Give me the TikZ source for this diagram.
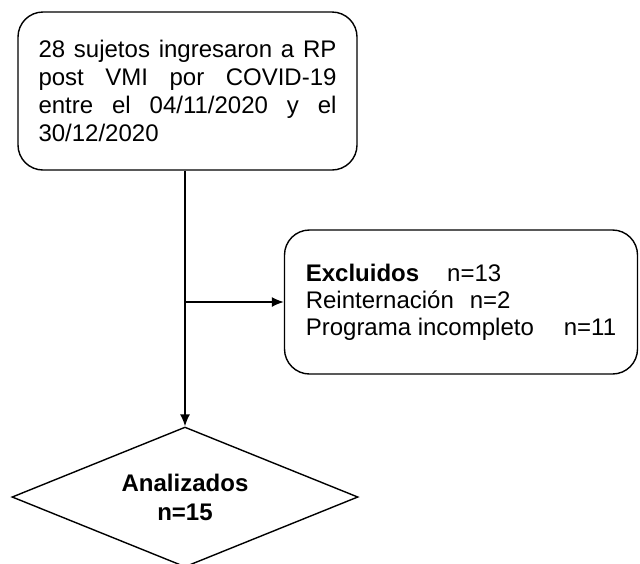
\documentclass[tikz,border=0pt]{standalone}
\usepackage{fontspec}
\setmainfont{Liberation Sans}
\usetikzlibrary{positioning}
\usetikzlibrary{arrows.meta}
\usetikzlibrary{shapes.geometric}

\begin{document}
\begin{tikzpicture}[x=0.5pt,y=-0.5pt,>={Latex[length=6pt,width=5pt]},
    caja/.style={draw,rounded corners=12.5pt,line width=0.7pt,inner sep=0pt},
    flecha/.style={->,line width=0.7pt}]
      \useasboundingbox (0,0) rectangle (640,563);
      \node[caja,minimum width=169.5pt,minimum height=79pt,text width=149pt,align=justify,
            font=\fontsize{12}{14}\selectfont] (ingreso) at (187.5,91)
            {28 sujetos ingresaron a RP\linebreak post VMI por COVID-19\linebreak entre el 04/11/2020 y el\linebreak 30/12/2020};
      \node[caja,minimum width=176.5pt,minimum height=72pt,align=left,
            font=\fontsize{12}{13.5}\selectfont] (excluidos) at (461,302)
            {\textbf{Excluidos}\hspace{14pt}n=13\\Reinternación\hspace{8pt}n=2\\Programa incompleto\hspace{15pt}n=11};
      \node[draw,diamond,aspect=2.47,minimum width=173pt,minimum height=70pt,inner sep=0pt,line width=0.7pt,
            align=center,font=\bfseries\fontsize{12}{14.5}\selectfont] (analizados) at (185,497) {Analizados\\n=15};
      \coordinate (rama) at (analizados.north |- excluidos.west);
      \draw[flecha] (ingreso.south -| analizados.north) -- (analizados.north);
      \draw[flecha] (rama) -- (excluidos.west);
\end{tikzpicture}
\end{document}
